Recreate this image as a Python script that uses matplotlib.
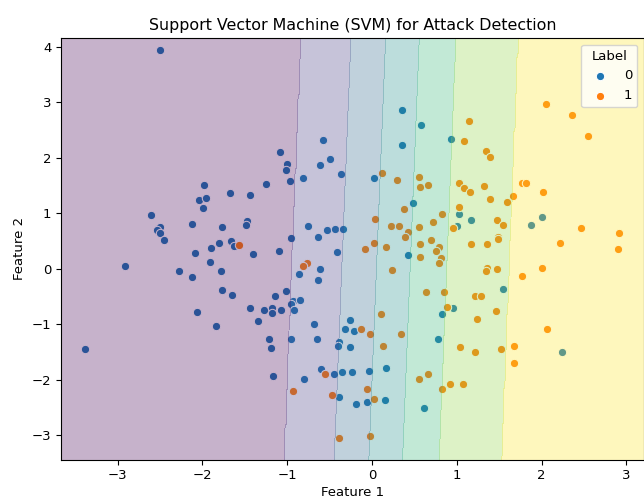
import numpy as np
import matplotlib
matplotlib.use("Agg")
import matplotlib.pyplot as plt

# ---- data ----
class0_f1 = [-2.50, -1.98, -1.67, -1.44, -2.04, -1.96, -1.99, -2.60, -2.12, -2.50, -2.54, -2.50, -2.45,
             -1.77, -1.47, -1.49, -1.66, -1.63, -1.80, -1.90, -2.09,
             -1.40, -2.91, -1.91, -2.28, -2.12, -1.78, -1.77, -1.65, -1.44, -2.06, -1.84, -3.38,
             0.35, 0.58, 0.35, -0.58, -1.08, -1.00, -1.01, -0.97, -0.61, -0.49, -0.37, -0.81, -1.25,
             0.02, 0.48, -0.75, -0.53, -0.44, -0.34, -0.64, -0.95, -1.10, -0.41,
             0.93, 1.03, 1.17, 2.00, 1.88, 1.00,
             0.42, -0.86, -0.61, -0.64, -1.01, -1.14, -0.93, -0.85, -0.96, -0.92, -1.27, -1.18, -1.18,
             -1.07, -1.34, 0.83, -0.26, -0.32, -0.21, -0.68, -1.22, -1.19, -0.96, -0.65, -0.39, -0.40,
             -0.26, 0.78, -1.17, -0.80, -0.60, -0.45, -0.35, -0.24, -0.03, 0.17, -0.39, -0.06, -0.19,
             0.15, 0.61, 1.55, 0.96, 2.24]
class0_f2 = [3.95, 1.51, 1.36, 1.33, 1.23, 1.27, 1.09, 0.96, 0.80, 0.75, 0.69, 0.65, 0.51,
             0.75, 0.86, 0.79, 0.50, 0.41, 0.47, 0.37, 0.28,
             0.26, 0.05, 0.13, -0.05, -0.15, -0.05, -0.39, -0.48, -0.71, -0.78, -1.04, -1.44,
             2.86, 2.59, 2.23, 2.32, 2.10, 1.89, 1.78, 1.58, 1.87, 1.97, 1.70, 1.63, 1.53,
             1.63, 1.19, 0.77, 0.69, 0.72, 0.71, 0.57, 0.55, 0.32, 0.30,
             2.34, 0.99, 0.88, 0.94, 0.78, 0.77,
             0.25, -0.10, 0.00, -0.20, -0.41, -0.50, -0.58, -0.57, -0.63, -0.74, -0.74, -0.70, -0.79,
             -0.74, -0.95, -0.81, -0.93, -1.09, -1.13, -0.99, -1.26, -1.43, -1.26, -1.26, -1.33, -1.39,
             -1.41, -1.26, -1.93, -1.99, -1.80, -1.90, -1.86, -1.86, -1.84, -1.79, -2.32, -2.41, -2.44,
             -2.36, -2.52, -0.37, -0.70, -1.50]

class1_f1 = [-1.57, 0.12, 0.30, 0.55, 0.57, 0.66, 0.38, 0.83, 0.03, 0.72, 0.23, 0.32, 0.55, 0.42,
             0.39, 0.70, 0.57, 0.79, 0.75, 0.02, 0.16, -0.08,
             1.14, 1.08, 1.34, 1.39, 2.05, 2.36, 2.55, 1.03, 1.08, 1.16, 1.32, 1.77, 1.82, 2.02,
             1.66, 1.59, 1.39, 1.03, 0.95, 1.48, 1.54, 1.49, 1.49, 1.17, 1.36, 2.22, 2.46, 2.91, 2.90,
             0.57, 0.81, 0.79, -0.77, -0.81, 0.24, 0.64, 0.85, 0.88, 0.11, -0.13, -0.02, 0.34, 0.13,
             -0.55, 0.56, 0.66, 0.83, -0.93, -0.47, -0.06, 0.02, -0.39, -0.02,
             1.36, 1.34, 1.48, 2.00, 1.77, 1.21, 1.29, 1.46, 1.24, 2.06, 1.04, 1.21, 1.52, 1.68,
             1.67, 0.92, 1.07]
class1_f2 = [0.43, 1.73, 1.60, 1.66, 1.48, 1.51, 1.08, 0.99, 0.89, 0.85, 0.77, 0.77, 0.76, 0.66,
             0.57, 0.52, 0.45, 0.39, 0.32, 0.46, 0.39, 0.35,
             2.66, 2.30, 2.13, 2.02, 2.97, 2.78, 2.39, 1.54, 1.45, 1.38, 1.49, 1.54, 1.54, 1.39,
             1.31, 1.21, 1.26, 1.11, 0.74, 0.87, 0.79, 0.57, 0.53, 0.45, 0.44, 0.47, 0.74, 0.64, 0.36,
             0.22, 0.20, 0.10, 0.10, 0.05, -0.03, -0.42, -0.42, -0.69, -0.81, -1.08, -1.18, -1.18, -1.39,
             -1.89, -1.99, -1.89, -2.16, -2.21, -2.28, -2.17, -2.35, -3.06, -3.01,
             0.01, -0.05, 0.00, 0.02, -0.13, -0.50, -0.50, -0.77, -0.90, -1.08, -1.42, -1.51, -1.44, -1.39,
             -1.70, -2.08, -2.08]

labels = ["0", "1"]
# decision-region boundaries (Feature 1 value at Feature 2 = 0) and their tilt
region_bounds = [-0.94, -0.355, 0.053, 0.45, 0.88, 1.61]
bound_tilt = 0.026

xlim = (-3.667, 3.208)
ylim = (-3.44, 4.16)

plt.rcParams["font.size"] = 9.5

fig = plt.figure(figsize=(6.44, 5.0), dpi=100)
ax_left, ax_top, ax_bottom = 61 / 644, 38 / 500, 459.5 / 500
ax = fig.add_axes([ax_left, 1 - ax_bottom, 1 - ax_left, ax_bottom - ax_top])

ax.scatter(class0_f1, class0_f2, s=36, c="#1f77b4", edgecolors="white", linewidths=0.75,
           label=labels[0], zorder=1)
ax.scatter(class1_f1, class1_f2, s=36, c="#ff7f0e", edgecolors="white", linewidths=0.75,
           label=labels[1], zorder=1)

# decision regions drawn over the points
gx = np.linspace(xlim[0], xlim[1], 400)
gy = np.linspace(ylim[0], ylim[1], 400)
XX, YY = np.meshgrid(gx, gy)
U = XX - bound_tilt * YY
Z = np.interp(U, [-20] + region_bounds + [20], [0, 1, 2, 3, 4, 5, 6, 7])
levels = [-1, 1, 2, 3, 4, 5, 6, 8]
cols = plt.cm.viridis(np.linspace(0, 1, 7))
ax.contourf(XX, YY, Z, levels=levels, colors=cols, alpha=0.3, zorder=2)

ax.set_xlim(*xlim)
ax.set_ylim(*ylim)
ax.set_xticks([-3, -2, -1, 0, 1, 2, 3])
ax.set_yticks([-3, -2, -1, 0, 1, 2, 3, 4])
ax.set_xlabel("Feature 1", labelpad=3)
ax.set_ylabel("Feature 2")
ax.set_title("Support Vector Machine (SVM) for Attack Detection", fontsize=11.4)
ax.legend(title="Label", loc="upper right")

fig.savefig("out.png", dpi=100)
